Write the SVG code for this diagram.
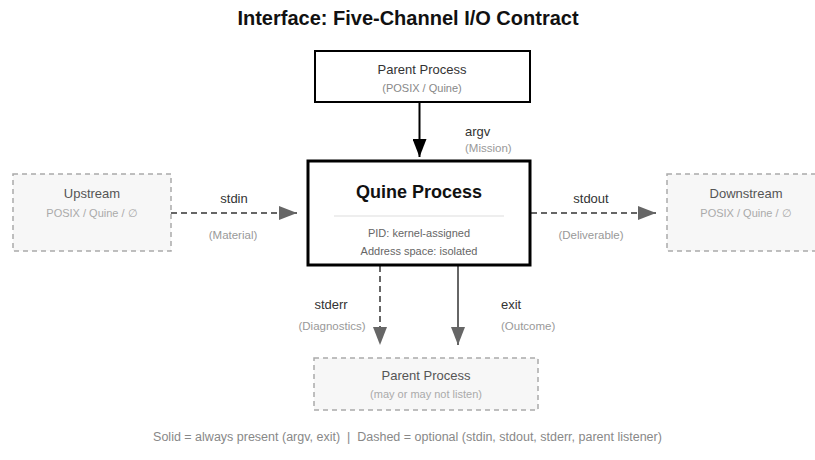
<svg xmlns="http://www.w3.org/2000/svg" width="815" height="460" viewBox="0 0 815 460">
<style>
text{font-family:"Liberation Sans",Arial,Helvetica,sans-serif}
.title{font-size:20px;font-weight:bold;fill:#111}
.h{font-size:13px;fill:#333}
.hg{font-size:13px;fill:#555}
.sub{font-size:11px;fill:#888}
.subl{font-size:11px;fill:#aaa}
.info{font-size:11px;fill:#666}
.lab{font-size:13px;fill:#333}
.labs{font-size:11.5px;fill:#999}
.foot{font-size:12.5px;fill:#888;white-space:pre}
.solidbox{fill:#fff;stroke:#000;stroke-width:2}
.optbox{fill:#f7f7f7;stroke:#aaa;stroke-width:1.5;stroke-dasharray:5 4}
.cs{stroke:#000;stroke-width:2;fill:none}
.cg{stroke:#666;stroke-width:2;fill:none}
.cd{stroke:#666;stroke-width:2;fill:none;stroke-dasharray:6 4}
</style>
<defs>
<marker id="ahb" viewBox="0 0 18 14" refX="18" refY="7" markerWidth="18" markerHeight="14" markerUnits="userSpaceOnUse" orient="auto"><path d="M0,0 L18,7 L0,14 Z" fill="#000"/></marker>
<marker id="ahg" viewBox="0 0 18 14" refX="18" refY="7" markerWidth="18" markerHeight="14" markerUnits="userSpaceOnUse" orient="auto"><path d="M0,0 L18,7 L0,14 Z" fill="#666"/></marker>
</defs>
<rect width="815" height="460" fill="#fff"/>
<text class="title" x="408" y="25" text-anchor="middle">Interface: Five-Channel I/O Contract</text>

<g id="connectors">
<line class="cs" x1="419.5" y1="102" x2="419.5" y2="157" marker-end="url(#ahb)"/>
<line class="cd" x1="171" y1="213" x2="297" y2="213" marker-end="url(#ahg)"/>
<line class="cd" x1="531" y1="213" x2="656" y2="213" marker-end="url(#ahg)"/>
<line class="cd" x1="380" y1="266" x2="380" y2="345" marker-end="url(#ahg)"/>
<line class="cg" x1="458" y1="266" x2="458" y2="345" marker-end="url(#ahg)"/>
<text class="lab" x="465" y="136">argv</text>
<text class="labs" x="465" y="152">(Mission)</text>
<text class="lab" x="234" y="203" text-anchor="middle">stdin</text>
<text class="labs" x="233" y="239" text-anchor="middle">(Material)</text>
<text class="lab" x="591" y="203" text-anchor="middle">stdout</text>
<text class="labs" x="591" y="239" text-anchor="middle">(Deliverable)</text>
<text class="lab" x="331" y="309" text-anchor="middle">stderr</text>
<text class="labs" x="332" y="330" text-anchor="middle">(Diagnostics)</text>
<text class="lab" x="501" y="309">exit</text>
<text class="labs" x="501" y="330">(Outcome)</text>
</g>

<g id="parent-top">
<rect class="solidbox" x="315" y="51" width="215" height="51"/>
<text class="h" x="422" y="74" text-anchor="middle">Parent Process</text>
<text class="sub" x="422" y="92" text-anchor="middle">(POSIX / Quine)</text>
</g>

<g id="quine">
<rect x="308" y="161" width="222" height="104" fill="#fff" stroke="#000" stroke-width="3"/>
<text x="419" y="198" text-anchor="middle" font-size="18" font-weight="bold" fill="#111">Quine Process</text>
<line x1="334" y1="216" x2="504" y2="216" stroke="#ddd" stroke-width="1"/>
<text class="info" x="419" y="237" text-anchor="middle">PID: kernel-assigned</text>
<text class="info" x="419" y="255" text-anchor="middle">Address space: isolated</text>
</g>

<g id="upstream">
<rect class="optbox" x="13" y="174" width="158" height="77"/>
<text class="hg" x="92" y="198" text-anchor="middle">Upstream</text>
<text class="subl" x="92" y="217" text-anchor="middle">POSIX / Quine / ∅</text>
</g>

<g id="downstream">
<rect class="optbox" x="667" y="174" width="158" height="77"/>
<text class="hg" x="746" y="198" text-anchor="middle">Downstream</text>
<text class="subl" x="746" y="217" text-anchor="middle">POSIX / Quine / ∅</text>
</g>

<g id="parent-bottom">
<rect class="optbox" x="314" y="358" width="224" height="52"/>
<text class="hg" x="426" y="380" text-anchor="middle">Parent Process</text>
<text class="subl" x="426" y="398" text-anchor="middle">(may or may not listen)</text>
</g>

<text class="foot" x="407.5" y="441" text-anchor="middle">Solid = always present (argv, exit)  |  Dashed = optional (stdin, stdout, stderr, parent listener)</text>
</svg>
